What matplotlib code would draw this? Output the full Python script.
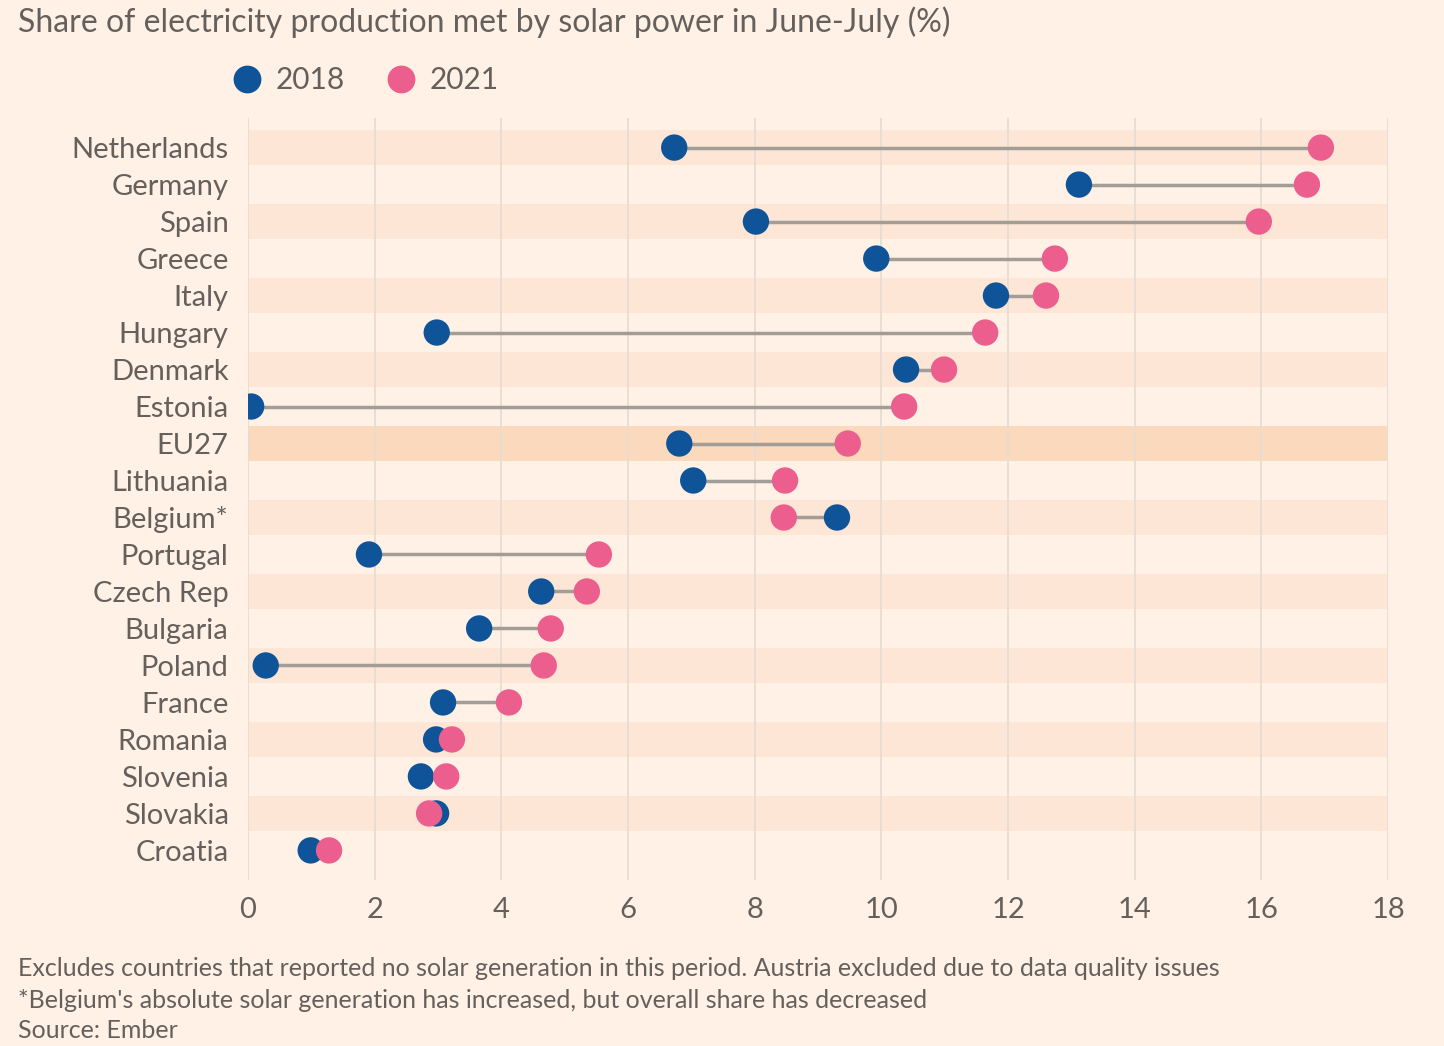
import matplotlib.pyplot as plt
from matplotlib.lines import Line2D
import numpy as np

plt.rcParams['font.family'] = ['Lato', 'DejaVu Sans']

countries = ["Netherlands", "Germany", "Spain", "Greece", "Italy", "Hungary",
             "Denmark", "Estonia", "EU27", "Lithuania", "Belgium*", "Portugal",
             "Czech Rep", "Bulgaria", "Poland", "France", "Romania", "Slovenia",
             "Slovakia", "Croatia"]
share_2018 = [6.73, 13.12, 8.02, 9.92, 11.81, 2.98, 10.39, 0.05, 6.81, 7.03,
              9.30, 1.91, 4.63, 3.65, 0.28, 3.08, 2.97, 2.73, 2.97, 0.99]
share_2021 = [16.94, 16.72, 15.96, 12.74, 12.60, 11.64, 10.99, 10.36, 9.47, 8.48,
              8.46, 5.54, 5.35, 4.78, 4.67, 4.12, 3.22, 3.13, 2.86, 1.28]
x_ticks = [0, 2, 4, 6, 8, 10, 12, 14, 16, 18]

bg = "#FFF1E5"
blue = "#0F5499"
pink = "#EB5E8D"
text_col = "#66605C"

fig = plt.figure(figsize=(14.44, 10.46), dpi=100, facecolor=bg)
ax = fig.add_axes([248 / 1444, 1 - 880 / 1046, 1140 / 1444, 762 / 1046])
ax.set_facecolor(bg)

y = np.arange(len(countries))

# alternating row bands, EU27 highlighted
for i, c in enumerate(countries):
    if c == "EU27":
        ax.axhspan(i - 0.47, i + 0.47, color="#FBD9BC", zorder=0, lw=0)
    elif i % 2 == 0:
        ax.axhspan(i - 0.47, i + 0.47, color="#FDE6D5", zorder=0, lw=0)

for t in x_ticks:
    ax.axvline(t, color="#E6DCD3", lw=1.3, zorder=1)

ax.hlines(y, share_2018, share_2021, color="#A39D98", lw=2.5, zorder=2)
ax.scatter(share_2018, y, s=360, color=blue, zorder=3, edgecolors="none")
ax.scatter(share_2021, y, s=360, color=pink, zorder=4, edgecolors="none")

ax.set_xlim(0, 18)
ax.set_ylim(len(countries) - 1 + 0.8, -0.8)
ax.set_xticks(x_ticks)
ax.set_yticks(y)
ax.set_yticklabels(countries)
ax.tick_params(axis="both", length=0, labelsize=21, colors=text_col)
ax.tick_params(axis="y", pad=14)
ax.tick_params(axis="x", pad=12)
for s in ax.spines.values():
    s.set_visible(False)

fig.text(18 / 1444, 1 - 22 / 1046, "Share of electricity production met by solar power in June-July (%)",
         fontsize=23, color=text_col, va="center", ha="left")

handles = [Line2D([], [], marker="o", ls="", color=blue, markersize=19, label="2018"),
           Line2D([], [], marker="o", ls="", color=pink, markersize=19, label="2021")]
fig.legend(handles=handles, loc="center left", bbox_to_anchor=(202 / 1444, 1 - 80 / 1046),
           ncol=2, frameon=False, fontsize=21.5, labelcolor=text_col,
           handletextpad=0.35, columnspacing=1.3, handlelength=1.2)

notes = ["Excludes countries that reported no solar generation in this period. Austria excluded due to data quality issues",
         "*Belgium's absolute solar generation has increased, but overall share has decreased",
         "Source: Ember"]
for k, line in enumerate(notes):
    fig.text(18 / 1444, 1 - (969 + 31 * k) / 1046, line, fontsize=18, color=text_col,
             va="center", ha="left")

fig.savefig("out.png", dpi=100, facecolor=bg)
